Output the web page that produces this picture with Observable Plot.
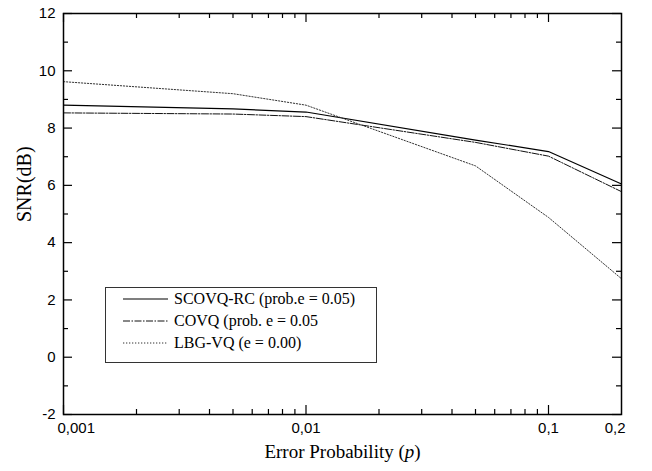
<!DOCTYPE html>
<html><head><meta charset="utf-8">
<script src="https://cdn.jsdelivr.net/npm/d3@7"></script>
<script src="https://cdn.jsdelivr.net/npm/@observablehq/plot@0.6"></script>
<style>
body{margin:0;background:#fff}
#wrap{position:relative;width:652px;height:471px}
#legend{position:absolute;left:105px;top:287px;width:272px;height:76px;border:1px solid #333;box-sizing:border-box;background:#fff;font-family:"Liberation Serif",serif;font-size:16px;color:#000}
.row{position:absolute;left:0;height:20px;display:flex;align-items:center}
.row svg{margin-left:17px;margin-right:6px}
</style>
</head><body><div id="wrap"><div id="chart"></div><div id="legend"></div></div>
<script>
const errorProb = [0.001, 0.005, 0.01, 0.05, 0.1, 0.2];
const scovqRC = [8.80, 8.67, 8.56, 7.58, 7.18, 6.05];
const covq = [8.53, 8.49, 8.40, 7.50, 7.02, 5.78];
const lbgVQ = [9.62, 9.20, 8.80, 6.68, 4.88, 2.74];
const seriesNames = ["SCOVQ-RC (prob.e = 0.05)", "COVQ (prob. e = 0.05", "LBG-VQ (e = 0.00)"];
const xMajorTicks = [0.001, 0.01, 0.1];
const xMinorTicks = [0.002,0.003,0.004,0.005,0.006,0.007,0.008,0.009,0.02,0.03,0.04,0.05,0.06,0.07,0.08,0.09];
const xTickValues = [0.001, 0.01, 0.1, 0.2];
const xTickLabels = ["0,001", "0,01", "0,1", "0,2"];
const yMajorTicks = [-2, 0, 2, 4, 6, 8, 10, 12];
const yMinorTicks = [-1, 1, 3, 5, 7, 9, 11];
const xTitle = "Error Probability (p)";
const yTitle = "SNR(dB)";

const W = 652, H = 471, mL = 63, mR = 31, mT = 13, mB = 57;
const pH = H - mT - mB, pW = W - mL - mR;

const styles = [
  {stroke: "#000", strokeWidth: 1.2, strokeDasharray: null},
  {stroke: "#111", strokeWidth: 1, strokeDasharray: "7,1.5,1.5,1.5"},
  {stroke: "#333", strokeWidth: 1, strokeDasharray: "1.3,1.7"}
];
const series = [scovqRC, covq, lbgVQ];
const toRows = vals => errorProb.map((p, i) => ({p, v: vals[i]}));

const tickLab = xTickValues.map((v, i) => ({v, label: xTickLabels[i], i}));

const chart = Plot.plot({
  width: W, height: H,
  marginLeft: mL, marginRight: mR, marginTop: mT, marginBottom: mB,
  style: {fontFamily: "Liberation Sans, Arial, sans-serif", fontSize: "15px", background: "#fff", color: "#000"},
  x: {type: "log", domain: [0.001, 0.2], axis: null},
  y: {domain: [-2, 12], axis: null},
  marks: [
    ...series.map((s, k) => Plot.line(toRows(s), {x: "p", y: "v", ...styles[k]})),
    // x ticks (bottom and top, inward)
    Plot.ruleX(xMajorTicks, {x: d => d, insetTop: pH - 9, stroke: "#000", strokeWidth: 1.2}),
    Plot.ruleX(xMinorTicks, {x: d => d, insetTop: pH - 5, stroke: "#000", strokeWidth: 1.2}),
    Plot.ruleX(xMajorTicks, {x: d => d, insetBottom: pH - 9, stroke: "#000", strokeWidth: 1.2}),
    Plot.ruleX(xMinorTicks, {x: d => d, insetBottom: pH - 5, stroke: "#000", strokeWidth: 1.2}),
    // y ticks (left and right, inward)
    Plot.ruleY(yMajorTicks, {y: d => d, insetRight: pW - 9, stroke: "#000", strokeWidth: 1.2}),
    Plot.ruleY(yMinorTicks, {y: d => d, insetRight: pW - 5, stroke: "#000", strokeWidth: 1.2}),
    Plot.ruleY(yMajorTicks, {y: d => d, insetLeft: pW - 9, stroke: "#000", strokeWidth: 1.2}),
    Plot.ruleY(yMinorTicks, {y: d => d, insetLeft: pW - 5, stroke: "#000", strokeWidth: 1.2}),
    Plot.frame({stroke: "#000", strokeWidth: 1.5}),
    // x tick labels
    Plot.text(tickLab.filter(d => d.i === 0), {x: "v", text: "label", frameAnchor: "bottom", dy: 18, dx: -6, textAnchor: "start"}),
    Plot.text(tickLab.filter(d => d.i === 1 || d.i === 2), {x: "v", text: "label", frameAnchor: "bottom", dy: 18}),
    Plot.text(tickLab.filter(d => d.i === 3), {x: "v", text: "label", frameAnchor: "bottom", dy: 18, dx: 4, textAnchor: "end"}),
    // y tick labels
    Plot.text(yMajorTicks, {y: d => d, text: d => String(d), frameAnchor: "left", dx: -8, textAnchor: "end"}),
    // axis titles
    Plot.text([xTitle], {frameAnchor: "bottom", dy: 43, fontFamily: "Liberation Serif, serif", fontSize: 19}),
    Plot.text([yTitle], {frameAnchor: "left", dx: -39, dy: 8, rotate: -90, fontFamily: "Liberation Serif, serif", fontSize: 20})
  ]
});
document.getElementById("chart").appendChild(chart);

// italic p in x title
d3.select(chart).selectAll("text").filter(function(){ return this.textContent === xTitle; })
  .each(function(){
    const t = d3.select(this);
    t.text(null);
    t.append("tspan").text("Error Probability (");
    t.append("tspan").attr("font-style", "italic").text("p");
    t.append("tspan").text(")");
  });

// legend
const legend = document.getElementById("legend");
seriesNames.forEach((name, k) => {
  const row = document.createElement("div");
  row.className = "row";
  row.style.top = (1 + k * 22) + "px";
  const svg = d3.create("svg").attr("width", 45).attr("height", 6);
  svg.append("line").attr("x1", 0).attr("x2", 45).attr("y1", 3).attr("y2", 3)
    .attr("stroke", styles[k].stroke).attr("stroke-width", styles[k].strokeWidth)
    .attr("stroke-dasharray", styles[k].strokeDasharray);
  row.appendChild(svg.node());
  const span = document.createElement("span");
  span.textContent = name;
  row.appendChild(span);
  legend.appendChild(row);
});
</script>
</body></html>
